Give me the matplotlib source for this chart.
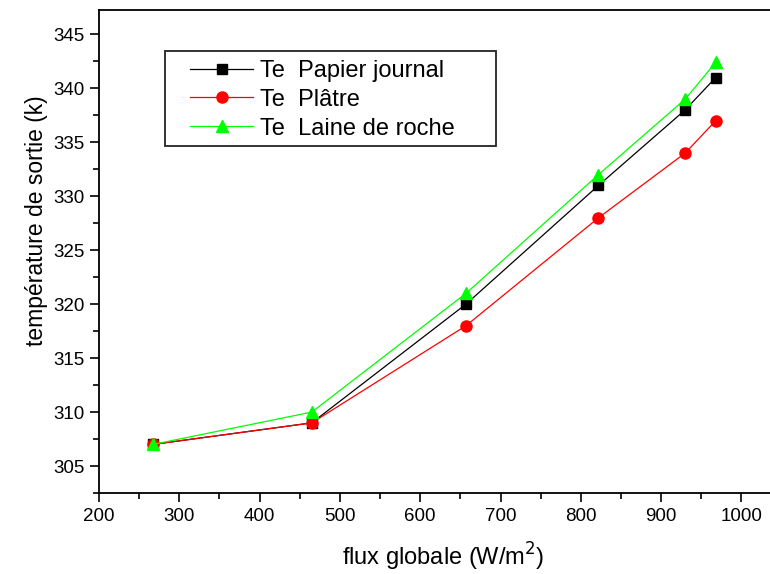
import matplotlib.pyplot as plt
from matplotlib.patches import Rectangle
from matplotlib.ticker import MultipleLocator

flux = [267, 465, 657, 822, 930, 968]
papier = [307, 309, 320, 331, 338, 341]
platre = [307, 309, 318, 328, 334, 337]
laine = [307, 310, 321, 332, 339, 342.4]

plt.rcParams['font.family'] = ['Liberation Sans', 'DejaVu Sans']

fig = plt.figure(figsize=(7.7, 5.74), dpi=100)
ax = fig.add_axes([0.1286, 0.1411, 0.8714, 0.8423])

ax.plot(flux, papier, color='black', lw=0.9, marker='s', ms=7, label='Te  Papier journal')
ax.plot(flux, platre, color='red', lw=0.9, marker='o', ms=8, label='Te  Plâtre')
ax.plot(flux, laine, color='#00ff00', lw=0.9, marker='^', ms=9, label='Te  Laine de roche')

ax.set_xlim(200, 1035.6)
ax.set_ylim(302.5, 347.3)
ax.xaxis.set_major_locator(MultipleLocator(100))
ax.xaxis.set_minor_locator(MultipleLocator(50))
ax.yaxis.set_major_locator(MultipleLocator(5))
ax.yaxis.set_minor_locator(MultipleLocator(2.5))
ax.tick_params(which='major', direction='out', length=6.5, width=1.2, labelsize=13.5, pad=4)
ax.tick_params(which='minor', direction='out', length=4, width=1.2)
ax.spines['right'].set_visible(False)
for s in ['left', 'bottom', 'top']:
    ax.spines[s].set_linewidth(1.3)

ax.set_xlabel('flux globale (W/m$^2$)', fontsize=17, labelpad=12)
ax.set_ylabel('température de sortie (k)', fontsize=16.5, labelpad=4)
ax.xaxis.label.set_x(0.5134)
ax.yaxis.label.set_y(0.5626)

# legend box drawn separately, entries placed inside it
ax.add_patch(Rectangle((0.0983, 0.7177), 0.4934, 0.1963, transform=ax.transAxes,
                       fill=False, edgecolor='#222222', lw=1.3, zorder=5))
ax.legend(loc='upper left', bbox_to_anchor=(0.1356, 0.896), fontsize=17,
          frameon=False, borderpad=0, borderaxespad=0,
          handlelength=2.67, handletextpad=0.3, labelspacing=0.29)

fig.savefig('out.png', dpi=100)
